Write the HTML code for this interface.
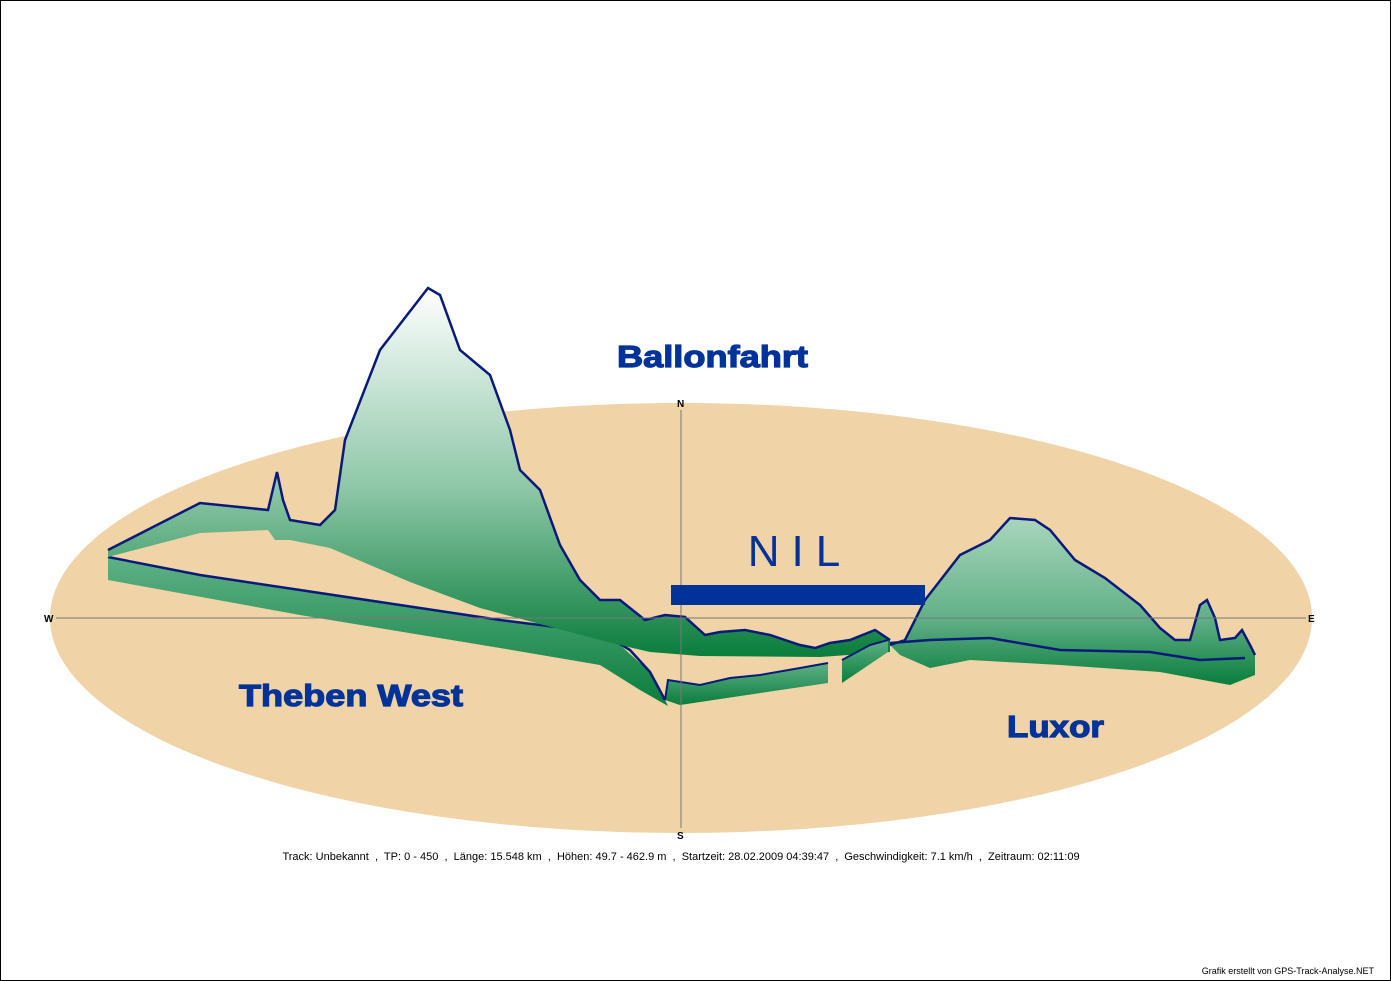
<!DOCTYPE html>
<html><head><meta charset="utf-8"><style>
html,body{margin:0;padding:0;background:#fff}
svg{display:block}
</style></head><body>
<svg width="1391" height="981" viewBox="0 0 1391 981" xmlns="http://www.w3.org/2000/svg" font-family="Liberation Sans, Arial, sans-serif">
<defs>
<linearGradient id="m" x1="0" y1="0" x2="0" y2="1">
<stop offset="0" stop-color="#ffffff"/><stop offset="0.55" stop-color="#8cc6a6"/><stop offset="1" stop-color="#0a7d3c"/></linearGradient>
<linearGradient id="b" x1="0" y1="0" x2="0" y2="1">
<stop offset="0" stop-color="#5fb186"/><stop offset="1" stop-color="#0a7d3c"/></linearGradient>
<linearGradient id="r" x1="0" y1="0" x2="0" y2="1">
<stop offset="0" stop-color="#a9d6bd"/><stop offset="0.6" stop-color="#62b088"/><stop offset="1" stop-color="#0a7d3c"/></linearGradient>
</defs>
<rect x="0.5" y="0.5" width="1390" height="980" fill="#fff" stroke="#000"/>
<ellipse cx="681" cy="618" rx="631" ry="215" fill="#f0d3a6"/>
<polygon fill="url(#b)" points="108,557 200,575 300,590 400,605 500,620 580,630 620,645 650,672 665,700 668,706 640,690 600,665 500,648 300,615 108,580"/>
<polyline fill="none" stroke="#0a1a7a" stroke-width="2.5" points="108,557 200,575 300,590 400,605 500,620 580,630 610,638 630,650 650,672 665,700"/>
<polygon fill="url(#m)" points="108,550 200,503 268,510 277,472 283,500 290,520 320,525 335,510 345,440 380,350 428,288 440,295 460,350 490,375 510,430 520,470 540,490 560,545 580,580 600,600 620,600 645,620 665,615 685,617 705,635 720,632 745,630 770,635 800,645 815,648 830,643 850,640 875,630 890,640 890,652 820,657 700,656 650,652 620,645 600,640 480,608 410,582 330,548 290,540 275,540 268,530 200,533 108,557"/>
<polyline fill="none" stroke="#0a1a7a" stroke-width="2.5" points="108,550 200,503 268,510 277,472 283,500 290,520 320,525 335,510 345,440 380,350 428,288 440,295 460,350 490,375 510,430 520,470 540,490 560,545 580,580 600,600 620,600 645,620 665,615 685,617 705,635 720,632 745,630 770,635 800,645 815,648 830,643 850,640 875,630 890,640"/>
<polygon fill="url(#b)" points="665,700 668,680 700,685 730,678 760,675 800,668 828,663 828,683 680,705"/>
<polyline fill="none" stroke="#0a1a7a" stroke-width="2" points="665,700 668,680 700,685 730,678 760,675 800,668 828,663"/>
<polygon fill="url(#b)" points="842,660 870,645 888,640 888,652 842,683"/>
<polyline fill="none" stroke="#0a1a7a" stroke-width="2" points="842,660 870,645 888,640"/>
<polygon fill="url(#r)" points="890,645 905,640 925,600 960,555 990,540 1010,518 1035,520 1050,530 1075,560 1105,578 1140,605 1160,628 1175,640 1190,640 1200,605 1207,600 1215,618 1220,640 1235,638 1242,630 1250,645 1255,655 1255,675 1230,685 1160,672 1060,665 970,660 930,668 900,655"/>
<polyline fill="none" stroke="#0a1a7a" stroke-width="2.5" points="890,645 905,640 925,600 960,555 990,540 1010,518 1035,520 1050,530 1075,560 1105,578 1140,605 1160,628 1175,640 1190,640 1200,605 1207,600 1215,618 1220,640 1235,638 1242,630 1250,645 1255,655"/>
<polyline fill="none" stroke="#0a1a7a" stroke-width="2.5" points="890,643 930,640 990,638 1060,650 1150,652 1200,660 1245,658"/>
<line x1="56" y1="618" x2="1306" y2="618" stroke="#777" stroke-width="1"/>
<line x1="681" y1="410" x2="681" y2="828" stroke="#777" stroke-width="1"/>
<text x="44" y="622" font-size="10" font-weight="bold">W</text>
<text x="1308" y="622" font-size="10" font-weight="bold">E</text>
<text x="677" y="407" font-size="10" font-weight="bold">N</text>
<text x="677" y="839" font-size="10" font-weight="bold">S</text>
<rect x="671" y="585" width="254" height="20" fill="#003399"/>
<text x="800" y="566" font-size="44" fill="#003399" text-anchor="middle" letter-spacing="12">NIL</text>
<g font-size="31" font-weight="bold" fill="#003399" stroke="#003399" stroke-width="1.2">
<text x="617" y="367" textLength="191" lengthAdjust="spacingAndGlyphs">Ballonfahrt</text>
<text x="239" y="706" textLength="224" lengthAdjust="spacingAndGlyphs">Theben West</text>
<text x="1007" y="737" textLength="97" lengthAdjust="spacingAndGlyphs">Luxor</text>
</g>
<text x="681" y="860" font-size="11" text-anchor="middle" xml:space="preserve">Track: Unbekannt  ,  TP: 0 - 450  ,  Länge: 15.548 km  ,  Höhen: 49.7 - 462.9 m  ,  Startzeit: 28.02.2009 04:39:47  ,  Geschwindigkeit: 7.1 km/h  ,  Zeitraum: 02:11:09</text>
<text x="1374" y="974" font-size="9" text-anchor="end">Grafik erstellt von GPS-Track-Analyse.NET</text>
</svg>
</body></html>
